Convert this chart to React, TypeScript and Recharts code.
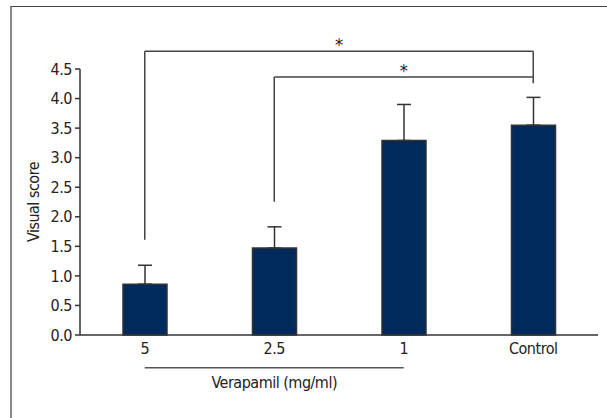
import React from "react";
import {
  BarChart,
  Bar,
  XAxis,
  YAxis,
  ErrorBar,
  ReferenceLine,
} from "recharts";

const categories = ["5", "2.5", "1", "Control"];
const meanScores = [0.86, 1.47, 3.29, 3.55];
const upperErrors = [0.32, 0.36, 0.61, 0.47];
const yTicks = [0, 0.5, 1, 1.5, 2, 2.5, 3, 3.5, 4, 4.5];

// significance brackets: from/to category, bar height, leg ends (in score units)
const bracketFrom = ["5", "2.5"];
const bracketTo = ["Control", "Control"];
const bracketLevel = [4.8, 4.365];
const bracketLeftEnd = [1.61, 2.255];
const bracketRightEnd = [4.365, 4.26];

const FONT = "'Liberation Sans Narrow', 'DejaVu Sans Condensed', 'Roboto', sans-serif";
const INK = "#333";
const NAVY = "#002a5b";
const TEXT = { fill: "#222", fontSize: 16, fontFamily: FONT, letterSpacing: -0.5 };

const data = categories.map((c, i) => ({
  name: c,
  score: meanScores[i],
  err: [0, upperErrors[i]],
}));

const App: React.FC = () => {
  return (
    <div
      style={{
        position: "absolute",
        left: 0,
        top: 0,
        width: 607,
        height: 418,
        overflow: "hidden",
        background: "#fff",
      }}
    >
      {/* cropped figure frame */}
      <div
        style={{
          position: "absolute",
          left: 10,
          top: 6,
          width: 640,
          height: 460,
          borderLeft: "2px solid #8a8a8a",
          borderTop: "1.5px solid #444",
        }}
      />
      <BarChart
        width={607}
        height={418}
        data={data}
        margin={{ top: 69, right: 9, left: 20, bottom: 53 }}
        style={{ position: "absolute", left: 0, top: 0, fontFamily: FONT }}
      >
        <XAxis
          dataKey="name"
          height={30}
          tickLine={false}
          axisLine={{ stroke: INK, strokeWidth: 1.5 }}
          tick={TEXT}
          tickMargin={2}
        />
        <YAxis
          width={60}
          domain={[0, 4.5]}
          ticks={yTicks}
          interval={0}
          tickFormatter={(v: number) => v.toFixed(1)}
          tickSize={5}
          tickMargin={3}
          axisLine={{ stroke: INK, strokeWidth: 1.5 }}
          tickLine={{ stroke: INK, strokeWidth: 1.5 }}
          tick={TEXT}
          label={{
            value: "Visual score",
            angle: -90,
            position: "center",
            dx: -17,
            ...TEXT,
          }}
        />
        <Bar
          dataKey="score"
          barSize={44}
          fill={NAVY}
          stroke={INK}
          strokeWidth={1.5}
          isAnimationActive={false}
        >
          <ErrorBar
            dataKey="err"
            direction="y"
            width={7}
            stroke={INK}
            strokeWidth={1.5}
          />
        </Bar>

        {bracketFrom.map((from, i) => (
          <React.Fragment key={i}>
            <ReferenceLine
              ifOverflow="visible"
              stroke="#444"
              strokeWidth={1.5}
              segment={[
                { x: from, y: bracketLeftEnd[i] },
                { x: from, y: bracketLevel[i] },
              ]}
            />
            <ReferenceLine
              ifOverflow="visible"
              stroke="#444"
              strokeWidth={1.5}
              segment={[
                { x: from, y: bracketLevel[i] },
                { x: bracketTo[i], y: bracketLevel[i] },
              ]}
              label={{
                value: "*",
                position: "top",
                offset: 0,
                fill: "#222",
                fontSize: 18,
                fontFamily: FONT,
              }}
            />
            <ReferenceLine
              ifOverflow="visible"
              stroke="#444"
              strokeWidth={1.5}
              segment={[
                { x: bracketTo[i], y: bracketLevel[i] },
                { x: bracketTo[i], y: bracketRightEnd[i] },
              ]}
            />
          </React.Fragment>
        ))}

        {/* group line under the verapamil doses */}
        <ReferenceLine
          ifOverflow="visible"
          stroke="#555"
          strokeWidth={1.5}
          segment={[
            { x: "5", y: -0.553 },
            { x: "1", y: -0.553 },
          ]}
          label={{
            value: "Verapamil (mg/ml)",
            position: "bottom",
            offset: 9,
            ...TEXT,
          }}
        />
      </BarChart>
    </div>
  );
};

export default App;
